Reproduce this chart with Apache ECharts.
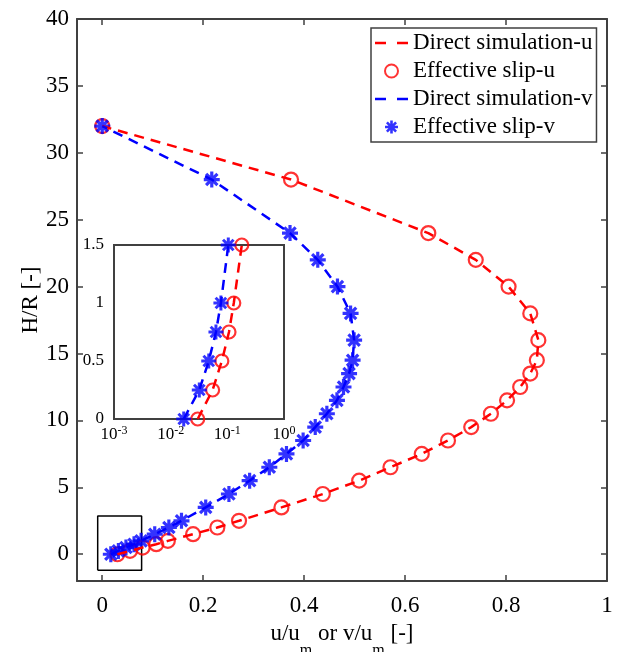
<!DOCTYPE html>
<html><head><meta charset="utf-8">
<script src="https://cdn.jsdelivr.net/npm/echarts@6/dist/echarts.min.js"></script>
<style>html,body{margin:0;padding:0;background:#fff}#c{width:619px;height:652px}</style>
</head><body><div id="c"></div>
<script>
// ---- data ----
const heightH = [0, 0.25, 0.5, 0.75, 1, 1.5, 2, 2.5, 3.5, 4.5, 5.5, 6.5, 7.5, 8.5, 9.5, 10.5, 11.5, 12.5, 13.5, 14.5, 16, 18, 20, 22, 24, 28, 32];
const uDirect = [0.030, 0.055, 0.080, 0.107, 0.130, 0.180, 0.228, 0.271, 0.355, 0.437, 0.509, 0.571, 0.633, 0.685, 0.731, 0.770, 0.802, 0.828, 0.848, 0.861, 0.864, 0.848, 0.805, 0.740, 0.646, 0.374, 0];
const uSlip   = [0.030, 0.055, 0.080, 0.107, 0.130, 0.180, 0.228, 0.271, 0.355, 0.437, 0.509, 0.571, 0.633, 0.685, 0.731, 0.770, 0.802, 0.828, 0.848, 0.861, 0.864, 0.848, 0.805, 0.740, 0.646, 0.374, 0];
const vDirect = [0.017, 0.032, 0.047, 0.063, 0.077, 0.104, 0.132, 0.157, 0.205, 0.251, 0.292, 0.331, 0.365, 0.398, 0.422, 0.445, 0.465, 0.478, 0.489, 0.496, 0.499, 0.492, 0.466, 0.427, 0.372, 0.217, 0];
const vSlip   = [0.017, 0.032, 0.047, 0.063, 0.077, 0.104, 0.132, 0.157, 0.205, 0.251, 0.292, 0.331, 0.365, 0.398, 0.422, 0.445, 0.465, 0.478, 0.489, 0.496, 0.499, 0.492, 0.466, 0.427, 0.372, 0.217, 0];
const seriesNames = ['Direct simulation-u', 'Effective slip-u', 'Direct simulation-v', 'Effective slip-v'];
const xTicks = [0, 0.2, 0.4, 0.6, 0.8, 1];
const yTicks = [0, 5, 10, 15, 20, 25, 30, 35, 40];
const insetXDecades = [0.001, 0.01, 0.1, 1];
const insetYTicks = [0, 0.5, 1, 1.5];
const insetHMax = 1.5;
const zoomBoxX = [-0.009, 0.078];
const zoomBoxY = [-1.2, 2.85];

// ---- helpers ----
const FONT = "'Liberation Serif','Times New Roman',serif";
const RED = '#ff0000', BLUE = '#0000ff', AX = '#404040';
const pairs = xs => heightH.map((h, i) => [xs[i], h]);
const insetPairs = xs => pairs(xs).filter(p => p[1] <= insetHMax);
const minorTicks = [];
insetXDecades.slice(0, -1).forEach(d => { for (let k = 1; k <= 9; k++) minorTicks.push(+(d * k).toPrecision(3)); });
minorTicks.push(1);
const boxData = [[zoomBoxX[0], zoomBoxY[0]], [zoomBoxX[1], zoomBoxY[0]], [zoomBoxX[1], zoomBoxY[1]], [zoomBoxX[0], zoomBoxY[1]], [zoomBoxX[0], zoomBoxY[0]]];
const STAR = 'path://M0 40L100 40L100 60L0 60ZM40 0L60 0L60 100L40 100ZM21.7 7.6L92.4 78.3L78.3 92.4L7.6 21.7ZM92.4 21.7L21.7 92.4L7.6 78.3L78.3 7.6Z';
const DASH_ICON = 'path://M0 0L0.01 0L0 0.01ZM33 13L32.99 13L33 12.99ZM0 5.2L11 5.2L11 7.8L0 7.8ZM22 5.2L33 5.2L33 7.8L22 7.8Z';

const chart = echarts.init(document.getElementById('c'), null, {renderer: 'canvas'});
const axisLineStyle = {show: true, onZero: false, lineStyle: {color: AX, width: 2}};
const mainTick = vals => ({show: true, inside: true, length: 6, customValues: vals, lineStyle: {color: AX, width: 1.5}});

chart.setOption({
  animation: false,
  backgroundColor: '#fff',
  textStyle: {fontFamily: FONT},
  grid: [
    {left: 77, top: 19, width: 530, height: 562, outerBoundsMode: 'none', containLabel: false},
    {left: 114, top: 245, width: 170, height: 174, outerBoundsMode: 'none', containLabel: false,
     show: true, backgroundColor: '#fff', borderColor: AX, borderWidth: 2, z: 5}
  ],
  legend: {
    left: 371, top: 28, orient: 'vertical',
    backgroundColor: '#fff', borderColor: AX, borderWidth: 1.5,
    padding: [3, 4, 3, 4], itemGap: 4, itemWidth: 33, itemHeight: 13,
    textStyle: {fontFamily: FONT, fontSize: 23, color: '#000', lineHeight: 24},
    data: [
      {name: seriesNames[0], icon: DASH_ICON, itemStyle: {color: RED, borderWidth: 0}},
      {name: seriesNames[1]},
      {name: seriesNames[2], icon: DASH_ICON, itemStyle: {color: BLUE, borderWidth: 0}},
      {name: seriesNames[3]}
    ]
  },
  xAxis: [
    {type: 'value', gridIndex: 0, min: -0.05, max: 1, position: 'bottom',
     axisLine: axisLineStyle, axisTick: mainTick(xTicks), splitLine: {show: false},
     axisLabel: {customValues: xTicks, fontFamily: FONT, fontSize: 23, color: '#000', margin: 13},
     name: '{a|u/u}{s|m}{a| or v/u}{s|m}{a| [-]}', nameLocation: 'middle', nameGap: 41, nameMoveOverlap: false,
     nameTextStyle: {fontFamily: FONT, color: '#000', rich: {
       a: {fontFamily: FONT, fontSize: 23, lineHeight: 24, verticalAlign: 'top', color: '#000'},
       s: {fontFamily: FONT, fontSize: 16, lineHeight: 16, verticalAlign: 'top', padding: [21, 0, 0, 0], color: '#000'}
     }}},
    {type: 'value', gridIndex: 0, min: -0.05, max: 1, position: 'top',
     axisLine: axisLineStyle, axisTick: mainTick(xTicks), splitLine: {show: false}, axisLabel: {show: false}},
    {type: 'log', logBase: 10, gridIndex: 1, min: 0.001, max: 1, position: 'bottom',
     axisLine: axisLineStyle,
     axisTick: {show: true, inside: true, length: 3, customValues: minorTicks, lineStyle: {color: AX, width: 1}},
     splitLine: {show: true, lineStyle: {color: '#dcdcdc', width: 1}},
     axisLabel: {customValues: insetXDecades, margin: 6, color: '#000',
       formatter: v => '{b|10}{e|' + Math.round(Math.log10(v)) + '}',
       rich: {
         b: {fontFamily: FONT, fontSize: 17, lineHeight: 18, verticalAlign: 'bottom', padding: [4, 0, 0, 0], color: '#000'},
         e: {fontFamily: FONT, fontSize: 12, lineHeight: 12, verticalAlign: 'top', padding: [0, 0, 8, 0], color: '#000'}
       }}},
    {type: 'log', logBase: 10, gridIndex: 1, min: 0.001, max: 1, position: 'top',
     axisLine: axisLineStyle,
     axisTick: {show: true, inside: true, length: 3, customValues: minorTicks, lineStyle: {color: AX, width: 1}},
     splitLine: {show: false}, axisLabel: {show: false}}
  ],
  yAxis: [
    {type: 'value', gridIndex: 0, min: -2, max: 40, position: 'left',
     axisLine: axisLineStyle, axisTick: mainTick(yTicks), splitLine: {show: false},
     axisLabel: {customValues: yTicks, fontFamily: FONT, fontSize: 23, color: '#000', margin: 8},
     name: 'H/R [-]', nameLocation: 'middle', nameGap: 35, nameRotate: 90, nameMoveOverlap: false,
     nameTextStyle: {fontFamily: FONT, fontSize: 23, color: '#000'}},
    {type: 'value', gridIndex: 0, min: -2, max: 40, position: 'right',
     axisLine: axisLineStyle, axisTick: mainTick(yTicks), splitLine: {show: false}, axisLabel: {show: false}},
    {type: 'value', gridIndex: 1, min: 0, max: 1.5, interval: 0.5, position: 'left',
     axisLine: axisLineStyle, axisTick: {show: false},
     splitLine: {show: true, lineStyle: {color: '#dcdcdc', width: 1}},
     axisLabel: {customValues: insetYTicks, fontFamily: FONT, fontSize: 17, color: '#000', margin: 10}},
    {type: 'value', gridIndex: 1, min: 0, max: 1.5, interval: 0.5, position: 'right',
     axisLine: axisLineStyle, axisTick: {show: false}, splitLine: {show: false}, axisLabel: {show: false}}
  ],
  series: [
    {name: 'zoomBox', type: 'line', xAxisIndex: 0, yAxisIndex: 0, data: boxData, symbol: 'none', silent: true,
     lineStyle: {color: '#000', width: 1.5}, z: 1},
    {name: seriesNames[0], type: 'line', xAxisIndex: 0, yAxisIndex: 0, data: pairs(uDirect), symbol: 'none',
     lineStyle: {color: RED, width: 2.5, type: [10, 7]}, itemStyle: {color: RED}},
    {name: seriesNames[1], type: 'scatter', xAxisIndex: 0, yAxisIndex: 0, data: pairs(uSlip), symbol: 'circle', symbolSize: 14,
     itemStyle: {color: 'rgba(255,255,255,0)', borderColor: RED, borderWidth: 2.2}},
    {name: seriesNames[2], type: 'line', xAxisIndex: 0, yAxisIndex: 0, data: pairs(vDirect), symbol: 'none',
     lineStyle: {color: BLUE, width: 2.5, type: [10, 7]}, itemStyle: {color: BLUE}},
    {name: seriesNames[3], type: 'scatter', xAxisIndex: 0, yAxisIndex: 0, data: pairs(vSlip), symbol: STAR, symbolSize: 16,
     itemStyle: {color: BLUE}},
    // inset
    {name: seriesNames[0], type: 'line', xAxisIndex: 2, yAxisIndex: 2, data: insetPairs(uDirect), symbol: 'none',
     lineStyle: {color: RED, width: 2.5, type: [10, 7]}, z: 6},
    {name: seriesNames[1], type: 'scatter', xAxisIndex: 2, yAxisIndex: 2, data: insetPairs(uSlip), symbol: 'circle', symbolSize: 13,
     itemStyle: {color: 'rgba(255,255,255,0)', borderColor: RED, borderWidth: 2.2}, z: 6},
    {name: seriesNames[2], type: 'line', xAxisIndex: 2, yAxisIndex: 2, data: insetPairs(vDirect), symbol: 'none',
     lineStyle: {color: BLUE, width: 2.5, type: [10, 7]}, z: 6},
    {name: seriesNames[3], type: 'scatter', xAxisIndex: 2, yAxisIndex: 2, data: insetPairs(vSlip), symbol: STAR, symbolSize: 15,
     itemStyle: {color: BLUE}, z: 6}
  ]
});
</script>
</body></html>
